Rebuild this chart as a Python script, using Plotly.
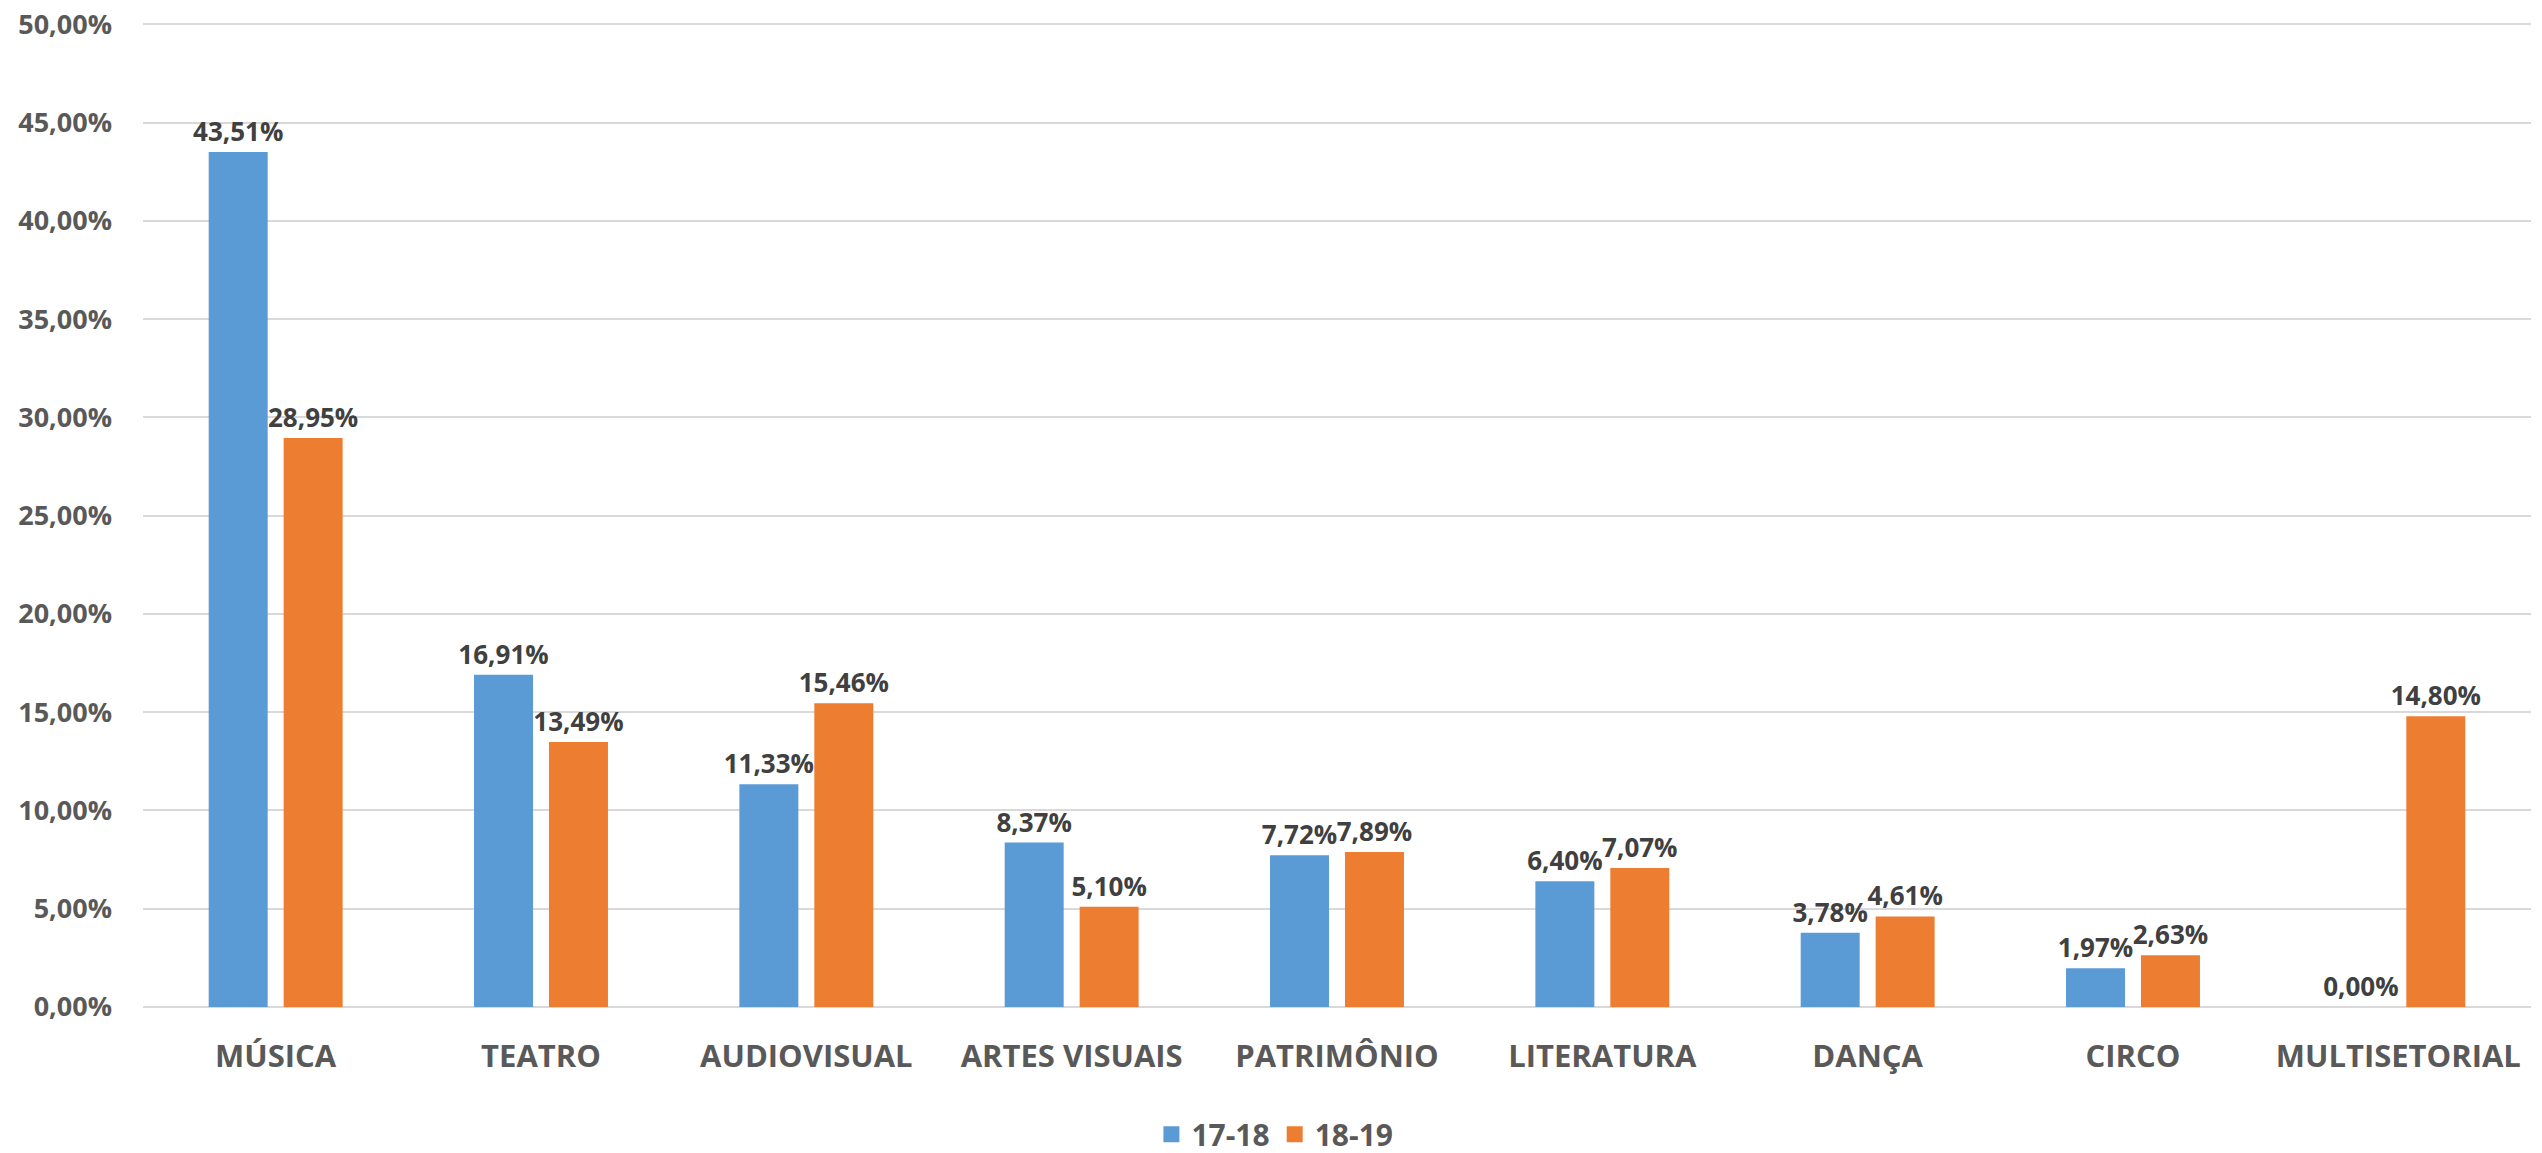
import plotly.graph_objects as go

categories = ["MÚSICA", "TEATRO", "AUDIOVISUAL", "ARTES VISUAIS", "PATRIMÔNIO",
              "LITERATURA", "DANÇA", "CIRCO", "MULTISETORIAL"]
series_names = ["17-18", "18-19"]
values_1718 = [0.4351, 0.1691, 0.1133, 0.0837, 0.0772, 0.0640, 0.0378, 0.0197, 0.0000]
values_1819 = [0.2895, 0.1349, 0.1546, 0.0510, 0.0789, 0.0707, 0.0461, 0.0263, 0.1480]
colors = ["#5B9BD5", "#ED7D31"]

FONT = "Open Sans"

fig = go.Figure()
for name, vals, col in zip(series_names, [values_1718, values_1819], colors):
    fig.add_trace(go.Bar(
        x=categories, y=vals, name=name, showlegend=False,
        marker=dict(color=col, line=dict(width=0)),
        texttemplate="%{y:.2%}", textposition="outside",
        constraintext="none",
        textfont=dict(family=FONT, size=26, color="#404040", weight="bold"),
        cliponaxis=False,
    ))
# legend entries with larger square swatches
for name, col in zip(series_names, colors):
    fig.add_trace(go.Scatter(
        x=[None], y=[None], mode="markers", name=name,
        marker=dict(symbol="square", size=21, color=col),
    ))

fig.update_layout(
    width=2542, height=1153,
    margin=dict(l=135, r=19, t=14, b=154, autoexpand=False),
    paper_bgcolor="white", plot_bgcolor="white",
    separators=",.",
    barmode="group", bargap=0.435, bargroupgap=0.213,
    font=dict(family=FONT, color="#595959"),
    legend=dict(orientation="h", x=0.474, xanchor="center",
                y=-0.1292, yanchor="middle",
                font=dict(family=FONT, size=30, color="#595959", weight="bold"),
                itemwidth=30, tracegroupgap=0),
    showlegend=True,
)
fig.update_yaxes(range=[0, 0.5012], tick0=0, dtick=0.05, tickformat=".2%", automargin=False,
                 ticklabeloverflow="allow",
                 showgrid=True, gridcolor="#D9D9D9", gridwidth=2,
                 zeroline=True, zerolinecolor="#D9D9D9", zerolinewidth=2,
                 showline=False, ticks="", ticklabelstandoff=30,
                 tickfont=dict(family=FONT, size=27, color="#595959", weight="bold"))
fig.update_xaxes(showgrid=False, showline=False, ticks="", ticklabelstandoff=28,
                 automargin=False, ticklabeloverflow="allow",
                 tickfont=dict(family=FONT, size=31, color="#595959", weight="bold"))

fig.write_html("out.html")
